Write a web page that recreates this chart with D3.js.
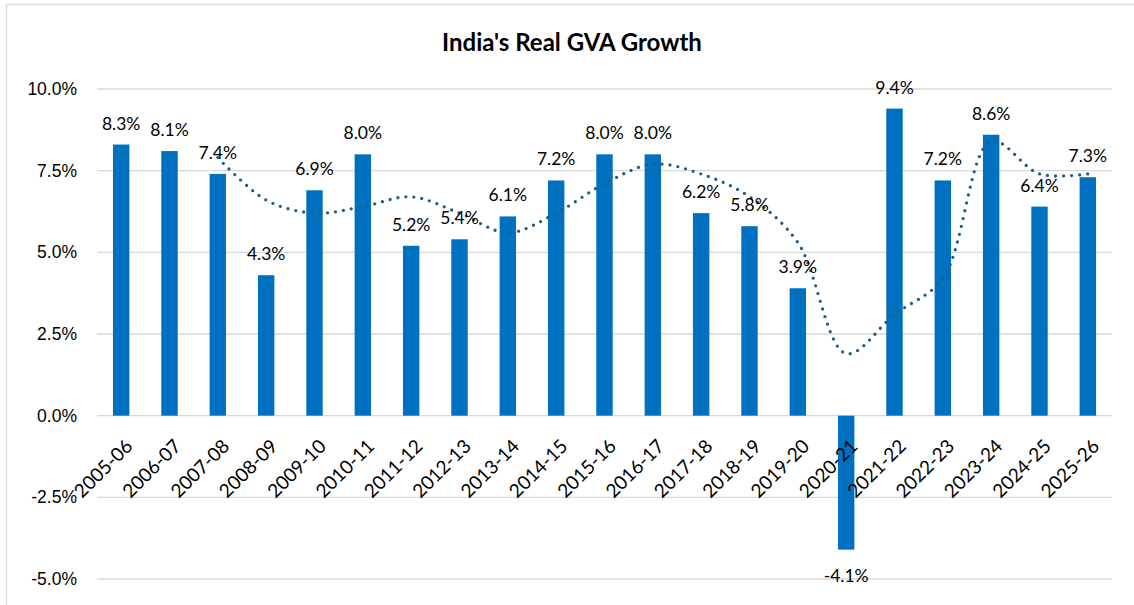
<!DOCTYPE html>
<html>
<head>
<meta charset="utf-8">
<script src="https://cdn.jsdelivr.net/npm/d3@7"></script>
<style>
    body { margin: 0; background: #fff; font-family: Lato, "Open Sans", sans-serif; }
    .grid line { stroke: #d9d9d9; stroke-width: 1.3; }
    .axis text { font-size: 17.5px; fill: #000; }
    .x-axis text { font-size: 19px; }
</style>
</head>
<body>
<div id="chart"></div>
<script>

// data
const years = ["2005-06", "2006-07", "2007-08", "2008-09", "2009-10", "2010-11", "2011-12",
    "2012-13", "2013-14", "2014-15", "2015-16", "2016-17", "2017-18", "2018-19", "2019-20",
    "2020-21", "2021-22", "2022-23", "2023-24", "2024-25", "2025-26"];
const growth = [8.3, 8.1, 7.4, 4.3, 6.9, 8.0, 5.2, 5.4, 6.1, 7.2, 8.0, 8.0, 6.2, 5.8, 3.9,
    -4.1, 9.4, 7.2, 8.6, 6.4, 7.3];
// dotted trend line (starts at 2007-08)
const trendYears = years.slice(2);
const trend = [7.9, 6.6, 6.2, 6.4, 6.7, 6.2, 5.6, 6.2, 7.1, 7.7, 7.4, 6.7, 5.3, 1.9, 3.1,
    4.2, 8.4, 7.4, 7.4];
const yTicks = [-5, -2.5, 0, 2.5, 5, 7.5, 10];

const W = 1134, H = 605;
const margin = {top: 89, right: 22, bottom: 26, left: 97};
const width = W - margin.left - margin.right;

// percent with a plain hyphen for negatives
const pct = d => d3.format(".1f")(d).replace("\u2212", "-") + "%";

const svg = d3.select("#chart").append("svg")
    .attr("width", W)
    .attr("height", H);

// chart frame
svg.append("rect")
    .attr("x", 6.5).attr("y", 4.5)
    .attr("width", W + 20).attr("height", H + 20)
    .attr("fill", "none")
    .attr("stroke", "#d9d9d9")
    .attr("stroke-width", 1.3);

svg.append("text")
    .attr("x", 572)
    .attr("y", 51)
    .attr("text-anchor", "middle")
    .style("font-size", "24px")
    .style("font-weight", "bold")
    .text("India's Real GVA Growth");

// scales
const x = d3.scaleBand()
    .domain(years)
    .range([margin.left, margin.left + width])
    .paddingInner(0.66)
    .paddingOuter(0.33);

const y = d3.scaleLinear()
    .domain([-5, 10])
    .range([579, 89]);

// gridlines
svg.append("g")
    .attr("class", "grid")
    .selectAll("line")
    .data(yTicks)
    .enter().append("line")
    .attr("x1", margin.left)
    .attr("x2", margin.left + width)
    .attr("y1", d => y(d))
    .attr("y2", d => y(d));

// y axis
const yAxis = d3.axisLeft(y)
    .tickValues(yTicks)
    .tickSize(0)
    .tickPadding(20)
    .tickFormat(pct);

svg.append("g")
    .attr("class", "axis y-axis")
    .attr("transform", `translate(${margin.left}, 0)`)
    .call(yAxis)
    .call(g => g.select(".domain").remove());

// bars
svg.selectAll(".bar")
    .data(growth)
    .enter().append("rect")
    .attr("class", "bar")
    .attr("fill", "#0070c0")
    .attr("x", (d, i) => x(years[i]))
    .attr("width", x.bandwidth())
    .attr("y", d => y(Math.max(0, d)))
    .attr("height", d => Math.abs(y(d) - y(0)));

// x axis labels (drawn over bars)
svg.append("g")
    .attr("class", "axis x-axis")
    .selectAll("text")
    .data(years)
    .enter().append("text")
    .attr("transform", d => `translate(${x(d) + x.bandwidth() / 2 + 8}, ${y(0) + 27}) rotate(-45)`)
    .attr("text-anchor", "end")
    .attr("dy", "0.35em")
    .text(d => d);

// trend line
const line = d3.line()
    .x((d, i) => x(trendYears[i]) + x.bandwidth() / 2)
    .y(d => y(d))
    .curve(d3.curveCatmullRom.alpha(0.5));

svg.append("path")
    .datum(trend)
    .attr("fill", "none")
    .attr("stroke", "#1f5f80")
    .attr("stroke-width", 3.3)
    .attr("stroke-linecap", "round")
    .attr("stroke-dasharray", "0 8")
    .attr("d", line);

// value labels
svg.selectAll(".value-label")
    .data(growth)
    .enter().append("text")
    .attr("class", "value-label")
    .attr("x", (d, i) => x(years[i]) + x.bandwidth() / 2)
    .attr("y", d => d >= 0 ? y(d) - 15 : y(d) + 32)
    .attr("text-anchor", "middle")
    .style("font-size", "17.5px")
    .text(pct);

</script>
</body>
</html>
